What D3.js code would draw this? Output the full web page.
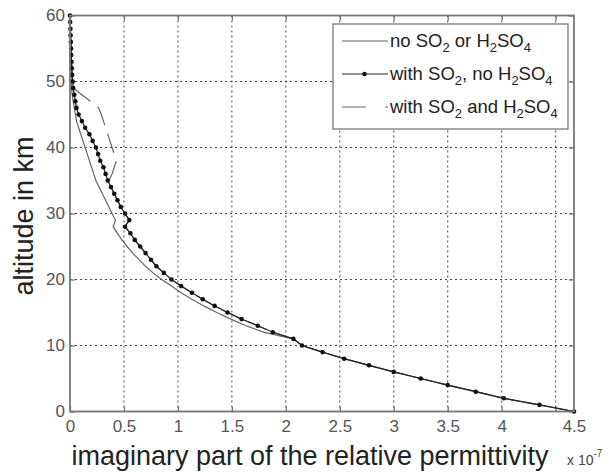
<!DOCTYPE html>
<html>
<head>
<meta charset="utf-8">
<script src="https://cdn.jsdelivr.net/npm/d3@7"></script>
<style>
body { margin: 0; background: #fff; }
svg { font-family: "Liberation Sans", Arial, sans-serif; }
</style>
</head>
<body>
<svg></svg>
<script>
// altitude in km (one value per km, bottom to top)
var altitude = [0,1,2,3,4,5,6,7,8,9,10,11,12,13,14,15,16,17,18,19,20,
    21,22,23,24,25,26,27,28,29,30,31,32,33,34,35,36,37,38,39,40,
    41,42,43,44,45,46,47,48,49,50,51,52,53,54,55,56,57,58,59,60];

// imaginary part, units of 1e-7
var noSO2 = [4.67,4.35,4.02,3.76,3.50,3.25,3.00,2.77,2.54,2.34,2.15,
    2.07,1.80,1.63,1.49,1.36,1.24,1.13,1.03,0.94,0.85,
    0.77,0.70,0.64,0.58,0.53,0.48,0.44,0.40,0.42,0.39,
    0.36,0.33,0.30,0.27,0.24,0.22,0.20,0.18,0.16,0.14,
    0.12,0.10,0.08,0.06,0.05,0.04,0.03,0.02,0.015,0.01,
    0.008,0.007,0.006,0.005,0.004,0.003,0.002,0.001,0.0005,0];

var withSO2 = [4.67,4.35,4.02,3.76,3.50,3.25,3.00,2.77,2.54,2.34,2.15,
    2.07,1.88,1.74,1.59,1.46,1.34,1.23,1.13,1.03,0.94,
    0.87,0.80,0.75,0.70,0.65,0.60,0.56,0.51,0.55,0.51,
    0.47,0.44,0.41,0.38,0.35,0.33,0.31,0.28,0.26,0.24,
    0.21,0.18,0.14,0.11,0.08,0.06,0.05,0.04,0.03,0.025,
    0.02,0.017,0.014,0.012,0.01,0.008,0.006,0.004,0.002,0];

var withH2SO4 = [4.67,4.35,4.02,3.76,3.50,3.25,3.00,2.77,2.54,2.34,2.15,
    2.07,1.88,1.74,1.59,1.46,1.34,1.23,1.13,1.03,0.94,
    0.87,0.80,0.75,0.70,0.65,0.60,0.56,0.51,0.55,0.51,
    0.47,0.44,0.41,0.38,0.36,0.39,0.41,0.43,0.41,0.39,
    0.37,0.35,0.33,0.31,0.29,0.265,0.19,0.11,0.03,0.025,
    0.02,0.017,0.014,0.012,0.01,0.008,0.006,0.004,0.002,0];

var xTicks = [0,0.5,1,1.5,2,2.5,3,3.5,4,4.5];
var yTicks = [0,10,20,30,40,50,60];
var legendLabels = ["no SO_2 or H_2SO_4", "with SO_2, no H_2SO_4", "with SO_2 and H_2SO_4"];

var W = 616, H = 476;
var pL = 70, pR = 574, pT = 15.5, pB = 411.5;
var xMax = 4.67;

var svg = d3.select('svg').attr('width', W).attr('height', H);

var x = d3.scaleLinear().domain([0, xMax]).range([pL, pR]);
var y = d3.scaleLinear().domain([0, 60]).range([pB, pT]);

// grid
svg.append('g').selectAll('line').data(xTicks.slice(1))
    .enter().append('line')
    .attr('x1', function(d){ return x(d); }).attr('x2', function(d){ return x(d); })
    .attr('y1', pT).attr('y2', pB)
    .attr('stroke', '#444').attr('stroke-width', 1).attr('stroke-dasharray', '2,3');
svg.append('g').selectAll('line').data(yTicks.slice(1, -1))
    .enter().append('line')
    .attr('y1', function(d){ return y(d); }).attr('y2', function(d){ return y(d); })
    .attr('x1', pL).attr('x2', pR)
    .attr('stroke', '#444').attr('stroke-width', 1).attr('stroke-dasharray', '2,3');

// axes, ticks pointing inward
var xAxis = svg.append('g').attr('transform', 'translate(0,' + pB + ')')
    .call(d3.axisBottom(x).tickValues(xTicks).tickSize(-5).tickPadding(8)
        .tickFormat(function(d){ return d; }));
// last label sits at the right end of the axis in the original
xAxis.selectAll('.tick').filter(function(d){ return d === 4.5; })
    .select('text').attr('x', x(xMax) - x(4.5));
svg.append('g').attr('transform', 'translate(0,' + pT + ')')
    .call(d3.axisTop(x).tickValues(xTicks).tickSize(-5).tickFormat(''));
svg.append('g').attr('transform', 'translate(' + pL + ',0)')
    .call(d3.axisLeft(y).tickValues(yTicks).tickSize(-5).tickPadding(5));
svg.append('g').attr('transform', 'translate(' + pR + ',0)')
    .call(d3.axisRight(y).tickValues(yTicks).tickSize(-5).tickFormat(''));

svg.selectAll('.domain').remove();
svg.selectAll('.tick line').attr('stroke', '#777').attr('stroke-width', 1.3);
svg.selectAll('.tick text').attr('fill', '#555').attr('font-size', 17)
    .attr('font-family', '"Liberation Sans", Arial, sans-serif');

// series
var line = d3.line()
    .x(function(d){ return x(d[0]); })
    .y(function(d){ return y(d[1]); });

function pairs(vals) {
    return vals.map(function(v, i){ return [v, altitude[i]]; });
}

svg.append('path').datum(pairs(noSO2))
    .attr('d', line).attr('fill', 'none')
    .attr('stroke', '#666').attr('stroke-width', 1.2);

svg.append('path').datum(pairs(withH2SO4))
    .attr('d', line).attr('fill', 'none')
    .attr('stroke', '#666').attr('stroke-width', 1.2)
    .attr('stroke-dasharray', '20,9');

svg.append('path').datum(pairs(withSO2))
    .attr('d', line).attr('fill', 'none')
    .attr('stroke', '#222').attr('stroke-width', 1.2);

svg.append('g').selectAll('circle').data(pairs(withSO2))
    .enter().append('circle')
    .attr('cx', function(d){ return x(d[0]); })
    .attr('cy', function(d){ return y(d[1]); })
    .attr('r', 2.3).attr('fill', '#111');

// frame
svg.append('rect')
    .attr('x', pL).attr('y', pT)
    .attr('width', pR - pL).attr('height', pB - pT)
    .attr('fill', 'none').attr('stroke', '#777').attr('stroke-width', 1.8);

// axis titles
svg.append('text')
    .attr('x', 310).attr('y', 465)
    .attr('text-anchor', 'middle').attr('font-size', 27).attr('fill', '#222')
    .text('imaginary part of the relative permittivity');

var mult = svg.append('text').attr('x', 567).attr('y', 465)
    .attr('font-size', 14).attr('fill', '#444');
mult.append('tspan').text('x 10');
mult.append('tspan').attr('dy', -8).attr('font-size', 10).text('-7');

svg.append('text')
    .attr('transform', 'translate(33,216) rotate(-90)')
    .attr('text-anchor', 'middle').attr('font-size', 27).attr('fill', '#222')
    .text('altitude in km');

// legend
var lg = svg.append('g');
lg.append('rect')
    .attr('x', 333).attr('y', 24).attr('width', 235).attr('height', 105)
    .attr('fill', '#fff').attr('stroke', '#777').attr('stroke-width', 1.3);

var rowY = [41, 74, 107];
var styles = [
    {stroke: '#666', dash: null, dot: false},
    {stroke: '#222', dash: null, dot: true},
    {stroke: '#666', dash: '24,19,3', dot: false}
];

legendLabels.forEach(function(lab, i){
    var ly = rowY[i];
    lg.append('line')
        .attr('x1', 342).attr('x2', 388).attr('y1', ly).attr('y2', ly)
        .attr('stroke', styles[i].stroke).attr('stroke-width', 1.2)
        .attr('stroke-dasharray', styles[i].dash);
    if (styles[i].dot) {
        lg.append('circle').attr('cx', 364.5).attr('cy', ly).attr('r', 2.3).attr('fill', '#111');
    }
    var t = lg.append('text').attr('x', 390).attr('y', ly + 6)
        .attr('font-size', 18.5).attr('fill', '#222');
    // "_2" marks a subscript digit
    var parts = lab.split(/_(\d)/);
    var sub = false;
    parts.forEach(function(p, j){
        if (j % 2 === 1) {
            t.append('tspan').attr('dy', 5).attr('font-size', 13).text(p);
            sub = true;
        } else if (p.length) {
            t.append('tspan').attr('dy', sub ? -5 : 0).text(p);
            sub = false;
        }
    });
});
</script>
</body>
</html>
